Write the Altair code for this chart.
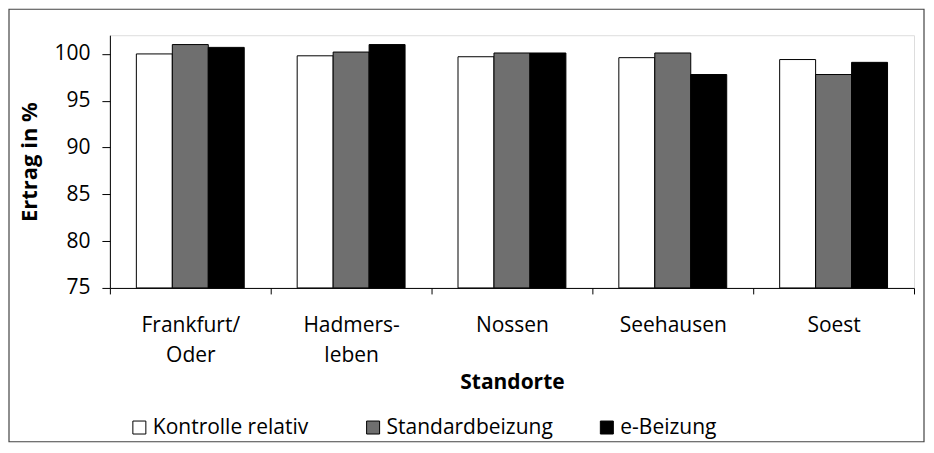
import altair as alt
import pandas as pd

standorte = ["Frankfurt/Oder", "Hadmersleben", "Nossen", "Seehausen", "Soest"]
serien = ["Kontrolle relativ", "Standardbeizung", "e-Beizung"]
kontrolle = [100.0, 99.8, 99.7, 99.6, 99.4]
standard = [101.0, 100.2, 100.1, 100.1, 97.8]
ebeizung = [100.7, 101.0, 100.1, 97.8, 99.1]
farben = ["#ffffff", "#6f6f6f", "#000000"]
y_ticks = [75, 80, 85, 90, 95, 100]

rows = []
for i, s in enumerate(standorte):
    for name, vals in zip(serien, [kontrolle, standard, ebeizung]):
        rows.append({"Standort": s, "Serie": name, "Wert": vals[i]})
df = pd.DataFrame(rows)

FONT = "Open Sans"

bars = alt.Chart(df).mark_bar(stroke="black", strokeWidth=1).encode(
    x=alt.X("Standort:N", sort=standorte,
            scale=alt.Scale(paddingInner=0, paddingOuter=0),
            axis=alt.Axis(title="Standorte", labelAngle=0, tickBand="extent",
                          labelExpr="datum.value == 'Frankfurt/Oder' ? ['Frankfurt/', 'Oder'] : datum.value == 'Hadmersleben' ? ['Hadmers-', 'leben'] : datum.value",
                          labelBaseline="top", labelLineHeight=30, labelPadding=21,
                          labelFontSize=21, labelFont=FONT, labelColor="black",
                          tickSize=6, tickColor="black", domainColor="black",
                          titleFontSize=21, titleFont=FONT, titleFontWeight="bold",
                          titleColor="black", titlePadding=6)),
    xOffset=alt.XOffset("Serie:N", sort=serien,
                        scale=alt.Scale(paddingInner=0, paddingOuter=0.736)),
    y=alt.Y("Wert:Q", scale=alt.Scale(domain=[75, 102], nice=False, zero=False),
            axis=alt.Axis(title="Ertrag in %", values=y_ticks, grid=False,
                          labelFontSize=21, labelFont=FONT, labelColor="black",
                          labelPadding=12, tickSize=8, tickColor="black",
                          domainColor="black", titleFontSize=22, titleFont=FONT,
                          titleFontWeight="bold", titleColor="black", titlePadding=12)),
    y2=alt.datum(75),
    color=alt.Color("Serie:N", sort=serien,
                    scale=alt.Scale(domain=serien, range=farben),
                    legend=alt.Legend(title=None, orient="none", direction="horizontal",
                                      columns=3, gridAlign="all", columnPadding=43,
                                      legendX=19, legendY=382, symbolType="square",
                                      symbolSize=169, symbolStrokeColor="black",
                                      symbolStrokeWidth=1, symbolOpacity=1,
                                      labelFontSize=21, labelFont=FONT, labelLimit=400,
                                      labelColor="black", labelOffset=3)),
)

border = alt.Chart(pd.DataFrame({"a": [0]})).mark_rect(
    fill=None, stroke="#444", strokeWidth=1.2
).encode(
    x=alt.value(-101), x2=alt.value(815), y=alt.value(-26), y2=alt.value(407)
)

chart = alt.layer(bars, border).properties(
    width=805, height=253,
    autosize=alt.AutoSizeParams(type="none"),
    padding={"left": 102, "top": 27, "right": 12, "bottom": 155},
).configure_view(stroke="#666", strokeWidth=1).configure(background="white")

chart.save("out.html", embed_options={"renderer": "svg", "actions": False})
